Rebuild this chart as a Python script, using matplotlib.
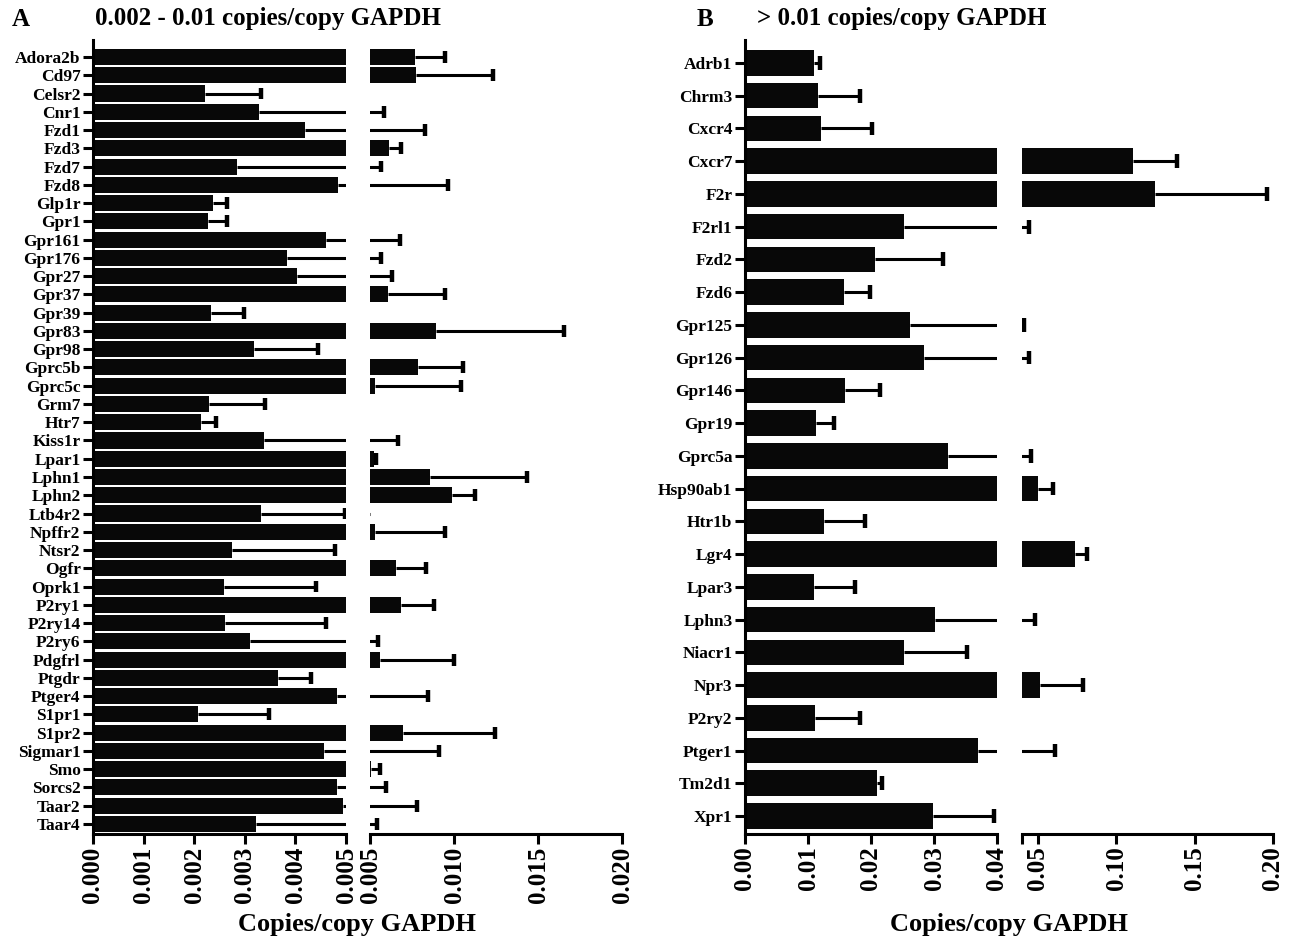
import numpy as np
import matplotlib
matplotlib.use('Agg')
import matplotlib.pyplot as plt

plt.rcParams['font.family'] = ['Liberation Serif', 'DejaVu Serif']
plt.rcParams['font.weight'] = 'bold'

# Panel A : 0.002 - 0.01 copies/copy GAPDH
genes_a = ['Adora2b', 'Cd97', 'Celsr2', 'Cnr1', 'Fzd1', 'Fzd3', 'Fzd7', 'Fzd8',
           'Glp1r', 'Gpr1', 'Gpr161', 'Gpr176', 'Gpr27', 'Gpr37', 'Gpr39', 'Gpr83',
           'Gpr98', 'Gprc5b', 'Gprc5c', 'Grm7', 'Htr7', 'Kiss1r', 'Lpar1', 'Lphn1',
           'Lphn2', 'Ltb4r2', 'Npffr2', 'Ntsr2', 'Ogfr', 'Oprk1', 'P2ry1', 'P2ry14',
           'P2ry6', 'Pdgfrl', 'Ptgdr', 'Ptger4', 'S1pr1', 'S1pr2', 'Sigmar1', 'Smo',
           'Sorcs2', 'Taar2', 'Taar4']
mean_a = [0.00766, 0.00774, 0.00222, 0.00329, 0.00418, 0.00616, 0.00285, 0.00484,
          0.00237, 0.00227, 0.00461, 0.00383, 0.00403, 0.00609, 0.00233, 0.00895,
          0.00319, 0.00786, 0.00531, 0.00229, 0.00213, 0.00338, 0.00524, 0.00856,
          0.00989, 0.00332, 0.00531, 0.00275, 0.00653, 0.00258, 0.00687, 0.00261,
          0.00310, 0.00560, 0.00365, 0.00483, 0.00207, 0.00694, 0.00457, 0.00505,
          0.00483, 0.00494, 0.00322]
err_a = [0.00180, 0.00460, 0.00110, 0.00256, 0.00410, 0.00066, 0.00280, 0.00480,
         0.00028, 0.00038, 0.00216, 0.00180, 0.00225, 0.00340, 0.00066, 0.00760,
         0.00126, 0.00270, 0.00510, 0.00110, 0.00030, 0.00330, 0.00010, 0.00576,
         0.00136, 0.00166, 0.00417, 0.00204, 0.00180, 0.00183, 0.00193, 0.00200,
         0.00240, 0.00440, 0.00065, 0.00360, 0.00140, 0.00550, 0.00455, 0.00055,
         0.00114, 0.00286, 0.00220]

# Panel B : > 0.01 copies/copy GAPDH
genes_b = ['Adrb1', 'Chrm3', 'Cxcr4', 'Cxcr7', 'F2r', 'F2rl1', 'Fzd2', 'Fzd6',
           'Gpr125', 'Gpr126', 'Gpr146', 'Gpr19', 'Gprc5a', 'Hsp90ab1', 'Htr1b',
           'Lgr4', 'Lpar3', 'Lphn3', 'Niacr1', 'Npr3', 'P2ry2', 'Ptger1', 'Tm2d1', 'Xpr1']
mean_b = [0.0109, 0.0116, 0.0120, 0.1106, 0.1248, 0.0253, 0.0206, 0.0157,
          0.0262, 0.0284, 0.0159, 0.0113, 0.0322, 0.0500, 0.0126,
          0.0738, 0.0110, 0.0301, 0.0252, 0.0513, 0.0111, 0.0370, 0.0210, 0.0298]
err_b = [0.0010, 0.0066, 0.0081, 0.0282, 0.0716, 0.0191, 0.0108, 0.0041,
         0.0150, 0.0160, 0.0055, 0.0028, 0.0134, 0.0096, 0.0065,
         0.0074, 0.0065, 0.0185, 0.0100, 0.0274, 0.0072, 0.0240, 0.0008, 0.0097]

W, H = 1295, 942
fig = plt.figure(figsize=(W/100, H/100), dpi=100)

LW = 2.2


def panel(x_l, x_r, x_end, genes, mean, err, lim_l, lim_r, ticks_l, ticks_r,
          tlab_l, tlab_r, bar_h, top_pad, bot_pad, cap_h):
    y_top, y_bot = 40, 834
    b = (H - y_bot)/H
    h = (y_bot - y_top)/H
    axl = fig.add_axes([x_l/W, b, (x_r[0] - x_l)/W, h])
    axr = fig.add_axes([x_r[1]/W, b, (x_end - x_r[1])/W, h], sharey=axl)
    y = np.arange(len(genes))
    mean = np.array(mean)
    end = mean + np.array(err)
    for ax, lim in ((axl, lim_l), (axr, lim_r)):
        ax.set_xlim(*lim)
        ax.barh(y, mean, height=bar_h, color='#080808', edgecolor='none')
        # one-sided error bars, cap only where the end lies in this segment
        ax.hlines(y, mean, end, color='black', linewidth=LW)
        m = (end > lim[0]) & (end <= lim[1])
        ax.vlines(end[m], y[m] - cap_h/2, y[m] + cap_h/2, color='black',
                  linewidth=LW + 1.0)
        for s in ['top', 'right']:
            ax.spines[s].set_visible(False)
        ax.spines['bottom'].set_linewidth(LW)
        ax.spines['left'].set_linewidth(LW)
        ax.tick_params(axis='x', width=LW, length=7, labelsize=18, labelrotation=90, pad=2)
    axl.set_ylim(len(genes) - 1 + bot_pad, -top_pad)
    axl.set_xticks(ticks_l)
    axl.set_xticklabels(tlab_l)
    axr.set_xticks(ticks_r)
    axr.set_xticklabels(tlab_r)
    axl.set_yticks(y)
    axl.set_yticklabels(genes)
    axl.tick_params(axis='y', width=LW, length=7, labelsize=12.5, pad=2)
    axr.spines['left'].set_visible(False)
    axr.tick_params(axis='y', left=False, labelleft=False)
    for lab in axl.get_xticklabels() + axr.get_xticklabels() + axl.get_yticklabels():
        lab.set_fontweight('bold')
    return axl, axr


panel(93, (346, 370), 622, genes_a, mean_a, err_a, (0, 0.005), (0.005, 0.020),
      [0, 0.001, 0.002, 0.003, 0.004, 0.005], [0.005, 0.010, 0.015, 0.020],
      ['0.000', '0.001', '0.002', '0.003', '0.004', '0.005'],
      ['0.005', '0.010', '0.015', '0.020'], 0.88, 0.93, 0.55, 0.65)

panel(745, (997, 1022), 1273, genes_b, mean_b, err_b, (0, 0.04), (0.04, 0.20),
      [0, 0.01, 0.02, 0.03, 0.04], [0.04, 0.05, 0.10, 0.15, 0.20],
      ['0.00', '0.01', '0.02', '0.03', '0.04'],
      ['', '0.05', '0.10', '0.15', '0.20'], 0.78, 0.7, 0.55, 0.42)

# panel letters, titles and axis labels
fig.text(12/W, 1 - 19/H, 'A', fontsize=18, fontweight='bold', va='center', ha='left')
fig.text(95/W, 1 - 19/H, '0.002 - 0.01 copies/copy GAPDH', fontsize=18,
         fontweight='bold', va='center', ha='left')
fig.text(697/W, 1 - 19/H, 'B', fontsize=18, fontweight='bold', va='center', ha='left')
fig.text(757/W, 1 - 19/H, '> 0.01 copies/copy GAPDH', fontsize=18,
         fontweight='bold', va='center', ha='left')
fig.text(357/W, 1 - 925/H, 'Copies/copy GAPDH', fontsize=19, fontweight='bold',
         va='center', ha='center')
fig.text(1009/W, 1 - 925/H, 'Copies/copy GAPDH', fontsize=19, fontweight='bold',
         va='center', ha='center')

fig.savefig('out.png', dpi=100, facecolor='white')
